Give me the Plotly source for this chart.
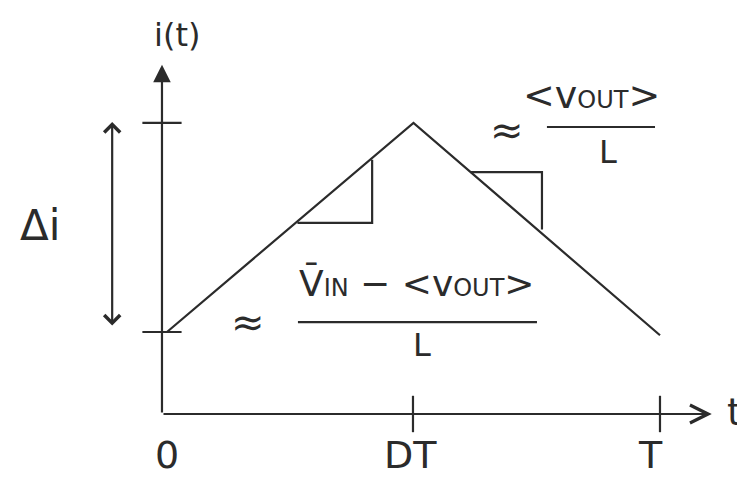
import plotly.graph_objects as go

# ---------------------------------------------------------------------------
# inductor current over one switching period (t in units of T, i arbitrary)
# ---------------------------------------------------------------------------
t_wave = [0.01, 0.505, 1.0]
i_wave = [1.0, 3.55, 0.96]

# small slope triangles sitting on the two ramps
rise_t = [0.272, 0.422, 0.422]
rise_i = [2.33, 2.33, 3.1]
fall_t = [0.62, 0.763, 0.763]
fall_i = [2.95, 2.95, 2.25]

# axis ticks
x_tick_t = [0.504, 1.0]
y_tick_i = [1.0, 3.55]
tick_labels = ["0", "DT", "T"]
tick_label_t = [0.01, 0.5, 0.98]

# axis extents (arrow tips) and the delta-i span
t_axis_end = 1.104
i_axis_end = 4.26
delta_span = [1.06, 3.56]

INK = "#2b2b2b"
FONT = "DejaVu Sans"
LW = 2.2

fig = go.Figure()

# waveform
fig.add_trace(go.Scatter(x=t_wave, y=i_wave, mode="lines",
    line=dict(color=INK, width=LW), cliponaxis=False, hoverinfo="skip"))

# slope triangles
for tt, ii in [(rise_t, rise_i), (fall_t, fall_i)]:
    fig.add_trace(go.Scatter(x=tt, y=ii, mode="lines",
        line=dict(color=INK, width=LW), cliponaxis=False, hoverinfo="skip"))

# tick marks crossing the axes
fig.add_trace(go.Scatter(x=x_tick_t, y=[0] * len(x_tick_t), mode="markers",
    marker=dict(symbol="line-ns", size=26, line=dict(color=INK, width=LW)),
    cliponaxis=False, hoverinfo="skip"))
fig.add_trace(go.Scatter(x=[0] * len(y_tick_i), y=y_tick_i, mode="markers",
    marker=dict(symbol="line-ew", size=28, line=dict(color=INK, width=LW)),
    cliponaxis=False, hoverinfo="skip"))

# axes drawn as arrows
fig.add_annotation(x=t_axis_end, y=0, ax=0, ay=0, xref="x", yref="y",
    axref="x", ayref="y", text="", showarrow=True, arrowhead=5,
    arrowsize=1.6, arrowwidth=LW, arrowcolor=INK, standoff=0)
fig.add_annotation(x=0, y=i_axis_end, ax=0, ay=0, xref="x", yref="y",
    axref="x", ayref="y", text="", showarrow=True, arrowhead=2,
    arrowsize=1.6, arrowwidth=LW, arrowcolor=INK, standoff=0)

# delta-i double arrow
fig.add_annotation(x=-0.1, y=delta_span[1], ax=-0.1, ay=delta_span[0],
    xref="x", yref="y", axref="x", ayref="y", text="", showarrow=True,
    arrowhead=4, arrowside="end+start", arrowsize=1.4, arrowwidth=LW,
    arrowcolor=INK, standoff=0, startstandoff=0)

# labels
def label(x, y, text, size):
    fig.add_annotation(x=x, y=y, xref="x", yref="y", text=text,
        showarrow=False, font=dict(family=FONT, size=size, color=INK))

for lt, txt in zip(tick_label_t, tick_labels):
    label(lt, -0.5, txt, 38)
label(1.15, 0.03, "t", 38)
label(0.03, 4.62, "i(t)", 32)
label(-0.245, 2.3, "Δi", 42)

# slope fractions
small = "<span style='font-size:24px'>{}</span>"
label(0.173, 1.12, "≈", 40)
label(0.512, 1.6, "V̄" + small.format("IN") + " − &lt;v" + small.format("OUT") + "&gt;", 36)
label(0.522, 0.84, "L", 32)

label(0.693, 3.46, "≈", 40)
label(0.862, 3.89, "&lt;v" + small.format("OUT") + "&gt;", 38)
label(0.896, 3.2, "L", 32)

# fraction bars
frac_bars = [(0.273, 0.753, 1.12), (0.773, 0.99, 3.5)]
for x0, x1, y0 in frac_bars:
    fig.add_shape(type="line", x0=x0, x1=x1, y0=y0, y1=y0, xref="x", yref="y",
        line=dict(color=INK, width=LW))

# page body keeps its default 8px margin, so the figure is 8px smaller
fig.update_layout(width=737, height=472, margin=dict(l=0, r=0, t=0, b=0),
    plot_bgcolor="white", paper_bgcolor="white", showlegend=False,
    xaxis=dict(range=[-0.3092, 1.1707], visible=False, fixedrange=True),
    yaxis=dict(range=[-0.805, 4.951], visible=False, fixedrange=True))

fig.write_html("out.html")
